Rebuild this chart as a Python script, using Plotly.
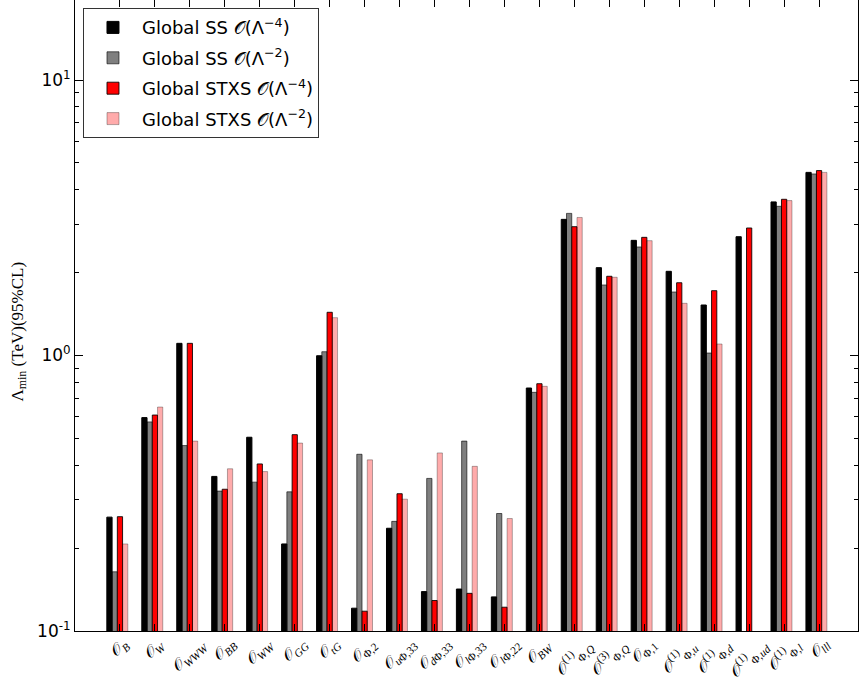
import plotly.graph_objects as go

categories = [
    "𝒪<sub><i>B</i></sub>", "𝒪<sub><i>W</i></sub>", "𝒪<sub><i>WWW</i></sub>", "𝒪<sub><i>BB</i></sub>",
    "𝒪<sub><i>WW</i></sub>", "𝒪<sub><i>GG</i></sub>", "𝒪<sub><i>tG</i></sub>", "𝒪<sub>Φ,2</sub>",
    "𝒪<sub><i>u</i>Φ,33</sub>", "𝒪<sub><i>d</i>Φ,33</sub>", "𝒪<sub><i>l</i>Φ,33</sub>", "𝒪<sub><i>l</i>Φ,22</sub>",
    "𝒪<sub><i>BW</i></sub>", "𝒪<sup>(1)</sup><sub>Φ,<i>Q</i></sub>", "𝒪<sup>(3)</sup><sub>Φ,<i>Q</i></sub>",
    "𝒪<sub>Φ,1</sub>", "𝒪<sup>(1)</sup><sub>Φ,<i>u</i></sub>", "𝒪<sup>(1)</sup><sub>Φ,<i>d</i></sub>",
    "𝒪<sup>(1)</sup><sub>Φ,<i>ud</i></sub>", "𝒪<sup>(1)</sup><sub>Φ,<i>l</i></sub>", "𝒪<sub><i>lll</i></sub>",
]

ss_l4 = [0.259, 0.595, 1.107, 0.364, 0.505, 0.207, 0.998, 0.121, 0.236, 0.139, 0.142, 0.133,
         0.762, 3.12, 2.084, 2.618, 2.021, 1.525, 2.699, 3.61, 4.62]
ss_l2 = [0.164, 0.574, 0.471, 0.322, 0.347, 0.320, 1.032, 0.438, 0.250, 0.358, 0.489, 0.267,
         0.735, 3.28, 1.803, 2.477, 1.700, 1.021, None, 3.48, 4.56]
stxs_l4 = [0.260, 0.608, 1.107, 0.327, 0.404, 0.516, 1.435, 0.118, 0.315, 0.129, 0.137, 0.122,
           0.790, 2.935, 1.939, 2.685, 1.837, 1.719, 2.903, 3.69, 4.69]
stxs_l2 = [0.207, 0.650, 0.489, 0.388, 0.379, 0.481, 1.372, 0.418, 0.301, 0.443, 0.396, 0.256,
           0.773, 3.17, 1.923, 2.611, 1.547, 1.101, None, 3.65, 4.62]

series_names = [
    "Global SS 𝒪(Λ<sup>−4</sup>)",
    "Global SS 𝒪(Λ<sup>−2</sup>)",
    "Global STXS 𝒪(Λ<sup>−4</sup>)",
    "Global STXS 𝒪(Λ<sup>−2</sup>)",
]
series_values = [ss_l4, ss_l2, stxs_l4, stxs_l2]
fills = ["#000000", "rgba(0,0,0,0.5)", "#ff0000", "rgba(255,0,0,0.33)"]
edges = ["#000000", "rgba(0,0,0,0.6)", "rgba(0,0,0,0.85)", "rgba(0,0,0,0.3)"]

bar_w = 0.15
xs = list(range(len(categories)))

fig = go.Figure()
for k, (name, vals) in enumerate(zip(series_names, series_values)):
    fig.add_trace(go.Bar(
        x=xs, y=vals, name=name, width=bar_w, offset=-0.375 + k * bar_w,
        marker=dict(color=fills[k], line=dict(color=edges[k], width=1)),
        legendgroup=f"g{k}",
    ))

minor_vals = [m * 10 ** e for e in (-1, 0, 1) for m in range(2, 10)]

fig.update_layout(
    width=859, height=679,
    margin=dict(l=75, r=1, t=0, b=48),
    paper_bgcolor="white", plot_bgcolor="white",
    barmode="overlay",
    font=dict(family="DejaVu Sans", size=16, color="black"),
    showlegend=True,
    legend=dict(
        x=0.0102, y=0.987, xanchor="left", yanchor="top",
        bgcolor="white", bordercolor="#333333", borderwidth=1,
        font=dict(family="DejaVu Sans", size=18),
        tracegroupgap=4, itemwidth=48,
    ),
    xaxis=dict(
        range=[-1.286, 21.114],
        tickmode="array", tickvals=xs, ticktext=[""] * len(xs),
        ticks="inside", ticklen=7, tickcolor="black",
        showline=True, linecolor="black", linewidth=1, mirror="ticks",
        showgrid=False, zeroline=False, automargin=False,
    ),
    yaxis=dict(
        type="log", range=[-1, 1.2904],
        tickmode="array", tickvals=[0.1, 1, 10],
        ticktext=["10<sup>-1</sup>", "10<sup>0</sup>", "10<sup>1</sup>"],
        ticks="inside", ticklen=8, tickcolor="black",
        minor=dict(tickmode="array", tickvals=minor_vals, ticks="inside", ticklen=4,
                   tickcolor="black", showgrid=False),
        showline=True, linecolor="black", linewidth=1, mirror="ticks",
        showgrid=False, zeroline=False, automargin=False,
        tickfont=dict(family="DejaVu Sans", size=17),
    ),
)

# rotated category labels (centered under each tick, like the reference)
for xi, lab in zip(xs, categories):
    fig.add_annotation(
        x=xi, xref="x", y=0, yref="paper", yshift=-1,
        text=lab, textangle=-42, showarrow=False,
        xanchor="center", yanchor="top",
        font=dict(family="Liberation Serif", size=16),
    )

fig.add_annotation(
    xref="paper", yref="paper", x=-0.072, y=0.474,
    text="Λ<sub>min</sub> (TeV)(95%CL)", textangle=-90, showarrow=False,
    xanchor="center", yanchor="middle",
    font=dict(family="Liberation Serif", size=17),
)

fig.write_html("out.html", config={"displayModeBar": False},
               post_script="document.body.style.margin='0px';")
